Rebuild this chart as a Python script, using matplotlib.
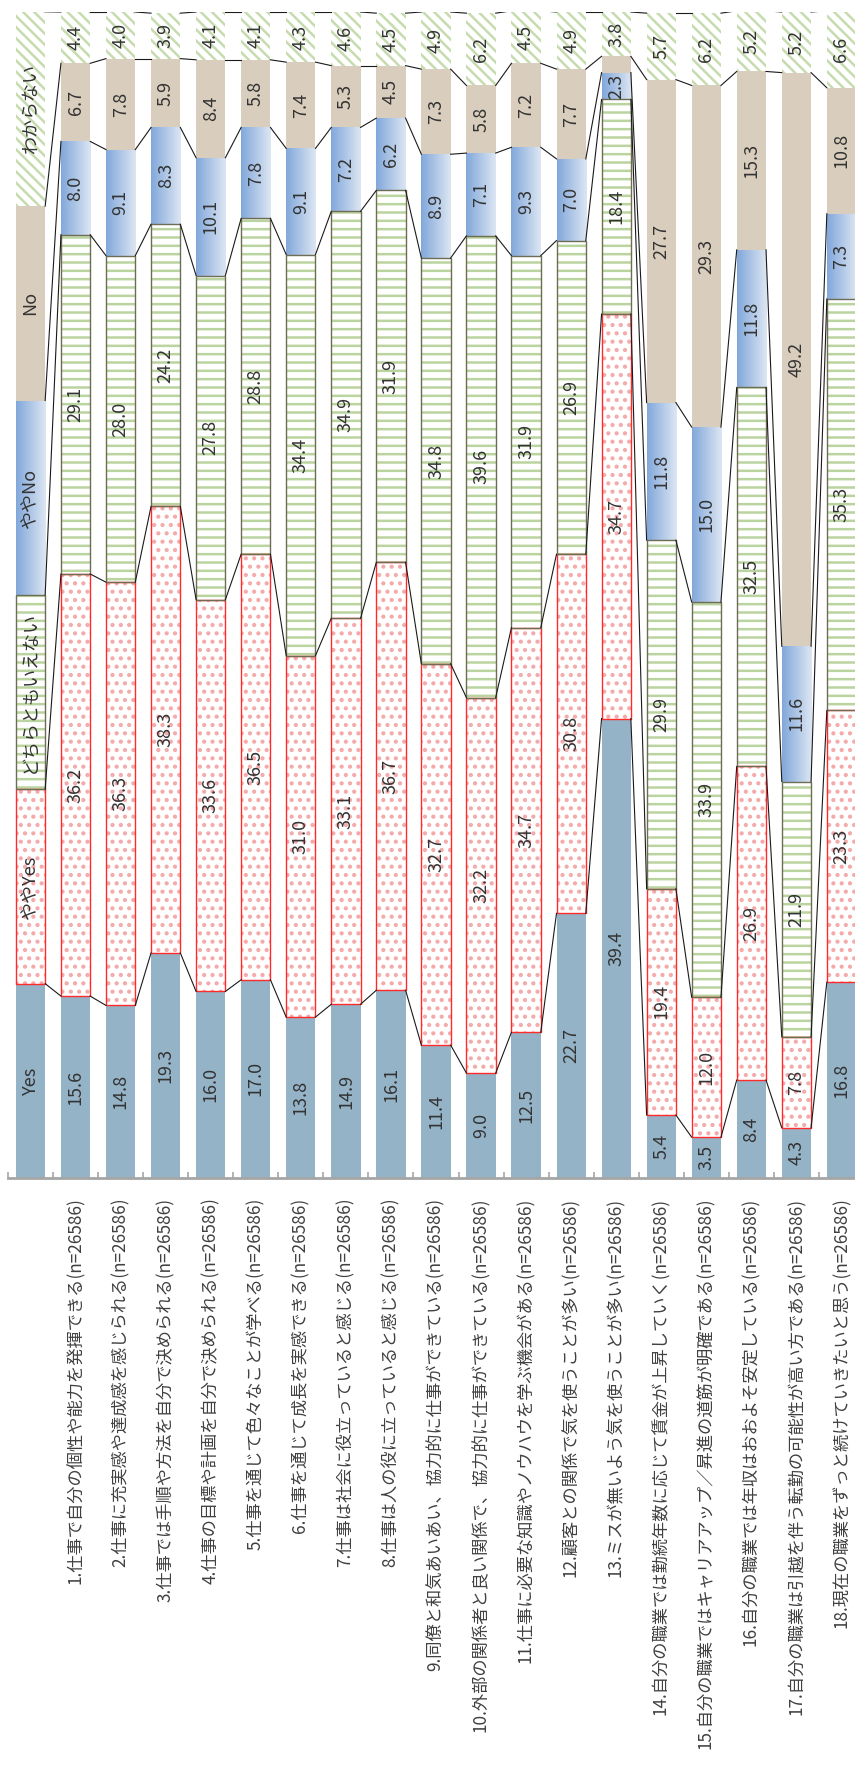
import matplotlib.pyplot as plt
import numpy as np
from matplotlib.colors import LinearSegmentedColormap

plt.rcParams['font.family'] = ['Noto Sans CJK JP', 'DejaVu Sans']
plt.rcParams['hatch.linewidth'] = 1.8

# data
series = ['Yes', 'ややYes', 'どちらともいえない', 'ややNo', 'No', 'わからない']
legend_share = [16.67, 16.67, 16.67, 16.67, 16.67, 16.67]

items = [
    '1.仕事で自分の個性や能力を発揮できる(n=26586)',
    '2.仕事に充実感や達成感を感じられる(n=26586)',
    '3.仕事では手順や方法を自分で決められる(n=26586)',
    '4.仕事の目標や計画を自分で決められる(n=26586)',
    '5.仕事を通じて色々なことが学べる(n=26586)',
    '6.仕事を通じて成長を実感できる(n=26586)',
    '7.仕事は社会に役立っていると感じる(n=26586)',
    '8.仕事は人の役に立っていると感じる(n=26586)',
    '9.同僚と和気あいあい、協力的に仕事ができている(n=26586)',
    '10.外部の関係者と良い関係で、協力的に仕事ができている(n=26586)',
    '11.仕事に必要な知識やノウハウを学ぶ機会がある(n=26586)',
    '12.顧客との関係で気を使うことが多い(n=26586)',
    '13.ミスが無いよう気を使うことが多い(n=26586)',
    '14.自分の職業では勤続年数に応じて賃金が上昇していく(n=26586)',
    '15.自分の職業ではキャリアアップ／昇進の道筋が明確である(n=26586)',
    '16.自分の職業では年収はおおよそ安定している(n=26586)',
    '17.自分の職業は引越を伴う転勤の可能性が高い方である(n=26586)',
    '18.現在の職業をずっと続けていきたいと思う(n=26586)',
]

yes      = [15.6, 14.8, 19.3, 16.0, 17.0, 13.8, 14.9, 16.1, 11.4, 9.0, 12.5, 22.7, 39.4, 5.4, 3.5, 8.4, 4.3, 16.8]
yaya_yes = [36.2, 36.3, 38.3, 33.6, 36.5, 31.0, 33.1, 36.7, 32.7, 32.2, 34.7, 30.8, 34.7, 19.4, 12.0, 26.9, 7.8, 23.3]
neutral  = [29.1, 28.0, 24.2, 27.8, 28.8, 34.4, 34.9, 31.9, 34.8, 39.6, 31.9, 26.9, 18.4, 29.9, 33.9, 32.5, 21.9, 35.3]
yaya_no  = [8.0, 9.1, 8.3, 10.1, 7.8, 9.1, 7.2, 6.2, 8.9, 7.1, 9.3, 7.0, 2.3, 11.8, 15.0, 11.8, 11.6, 7.3]
no       = [6.7, 7.8, 5.9, 8.4, 5.8, 7.4, 5.3, 4.5, 7.3, 5.8, 7.2, 7.7, 1.4, 27.7, 29.3, 15.3, 49.2, 10.8]
unknown  = [4.4, 4.0, 3.9, 4.1, 4.1, 4.3, 4.6, 4.5, 4.9, 6.2, 4.5, 4.9, 3.8, 5.7, 6.2, 5.2, 5.2, 6.6]

columns = [yes, yaya_yes, neutral, yaya_no, no, unknown]

W, H = 855, 1766
fig = plt.figure(figsize=(W / 100, H / 100), dpi=100)
ax = fig.add_axes([8 / W, 588 / H, 856 / W, 1166 / H])

x = np.arange(len(items) + 1)
width = 0.65
text_col = '#333333'
blue_grad = LinearSegmentedColormap.from_list('grad', ['#82A8DA', '#DCE6F3'])
grad = np.linspace(0, 1, 64).reshape(1, -1)

bottoms = np.zeros(len(x))
for k, name in enumerate(series):
    vals = np.array([legend_share[k]] + columns[k])
    if k == 0:
        ax.bar(x, vals, width, bottom=bottoms, color='#95B3C7', edgecolor='none', zorder=1)
    elif k == 1:
        ax.bar(x, vals, width, bottom=bottoms, facecolor='white', edgecolor='#F4AAAA',
               hatch='..', linewidth=0, zorder=1)
        ax.bar(x, vals, width, bottom=bottoms, fill=False, edgecolor='#FF2A2A', linewidth=1.0, zorder=2)
    elif k == 2:
        ax.bar(x, vals, width, bottom=bottoms, facecolor='white', edgecolor='#BAD4A0',
               hatch='--', linewidth=0, zorder=1)
        ax.bar(x, vals, width, bottom=bottoms, fill=False, edgecolor='#6E6C52', linewidth=1.0, zorder=2)
    elif k == 3:
        bars = ax.bar(x, vals, width, bottom=bottoms, color='none', edgecolor='none', zorder=1)
        for r in bars:
            ax.imshow(grad, extent=[r.get_x(), r.get_x() + r.get_width(), r.get_y(), r.get_y() + r.get_height()],
                      cmap=blue_grad, aspect='auto', interpolation='bilinear', zorder=1)
    elif k == 4:
        ax.bar(x, vals, width, bottom=bottoms, color='#D9CEBD', edgecolor='none', zorder=1)
    else:
        ax.bar(x, vals, width, bottom=bottoms, facecolor='white', edgecolor='#C6DCAF',
               hatch='\\\\\\', linewidth=0, zorder=1)

    # labels
    for i in range(len(x)):
        yc = bottoms[i] + vals[i] / 2
        if i == 0:
            ax.text(x[i], yc, name, rotation=90, ha='center', va='center', fontsize=13, color=text_col, zorder=5)
        elif vals[i] >= 2:
            ax.text(x[i], yc, f'{vals[i]:.1f}', rotation=90, ha='center', va='center', fontsize=13,
                    color=text_col, zorder=5)

    tops = bottoms + vals
    # series lines
    for i in range(len(x) - 1):
        ax.plot([x[i] + width / 2, x[i + 1] - width / 2], [tops[i], tops[i + 1]],
                color='#1A1A1A', linewidth=0.8, zorder=3)
    bottoms = tops

ax.set_xlim(-0.5, len(x) - 0.5)
ax.set_ylim(0, 100)
for s in ['left', 'top', 'right']:
    ax.spines[s].set_visible(False)
ax.spines['bottom'].set_color('#A6A6A6')
ax.spines['bottom'].set_linewidth(2)
ax.spines['bottom'].set_zorder(6)
ax.set_yticks([])
ax.set_xticks(x)
ax.set_xticklabels([''] + items, rotation=90, fontsize=12.4, color='#404040')
ax.tick_params(axis='x', which='major', length=0, pad=14)
ax.set_xticks(np.arange(-0.5, len(x), 1), minor=True)
ax.tick_params(axis='x', which='minor', direction='in', length=4, width=1.2, color='#A6A6A6')

fig.savefig('out.png', dpi=100)
